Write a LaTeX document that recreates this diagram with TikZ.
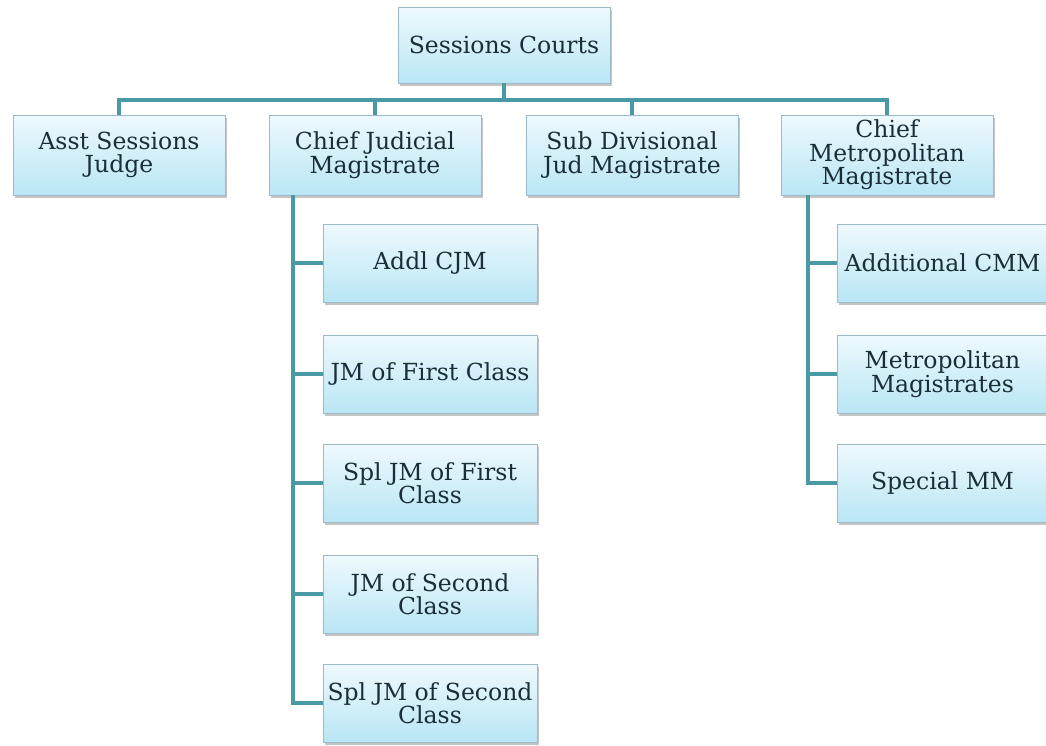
\documentclass[tikz,border=0pt]{standalone}
\usepackage{fontspec}
\setmainfont{DejaVu Serif}
\usetikzlibrary{shadows}
\definecolor{conncol}{HTML}{4A9AA6}
\definecolor{boxtop}{HTML}{EEF9FD}
\definecolor{boxbot}{HTML}{B9E6F5}
\definecolor{boxline}{HTML}{9DBBC6}
\definecolor{txtcol}{HTML}{1A2E38}
\tikzset{
  orgbox/.style={rectangle, draw=boxline, line width=0.8pt, top color=boxtop, bottom color=boxbot,
    minimum width=212pt, minimum height=78pt, inner sep=0pt, align=center,
    text=txtcol, font=\fontsize{23.5}{23.5}\selectfont,
    drop shadow={shadow xshift=2pt, shadow yshift=-3pt, fill=black!45, opacity=0.5}},
  conn/.style={draw=conncol, line width=4pt}
}
\begin{document}
\begin{tikzpicture}[x=1pt,y=-1pt]
\useasboundingbox[fill=white] (0,0) rectangle (1046,745);
% level 1
\node[orgbox, minimum height=76pt] (top) at (504,45) {Sessions Courts};
% level 2
\node[orgbox, minimum height=80pt] (asj) at (119,155) {Asst Sessions\\Judge};
\node[orgbox, minimum height=80pt] (cjm) at (375,155) {Chief Judicial\\Magistrate};
\node[orgbox, minimum height=80pt] (sdj) at (632,155) {Sub Divisional\\Jud Magistrate};
\node[orgbox, minimum height=80pt] (cmm) at (887,155) {Chief\\Metropolitan\\Magistrate};
% level 3 under CJM
\node[orgbox, minimum width=214pt] (c1) at (430,263) {Addl CJM};
\node[orgbox, minimum width=214pt] (c2) at (430,374) {JM of First Class};
\node[orgbox, minimum width=214pt] (c3) at (430,483) {Spl JM of First\\Class};
\node[orgbox, minimum width=214pt] (c4) at (430,594) {JM of Second\\Class};
\node[orgbox, minimum width=214pt] (c5) at (430,703) {Spl JM of Second\\Class};
% level 3 under CMM
\node[orgbox, minimum width=211pt] (m1) at (942.5,263) {Additional CMM};
\node[orgbox, minimum width=211pt] (m2) at (942.5,374) {Metropolitan\\Magistrates};
\node[orgbox, minimum width=211pt] (m3) at (942.5,483) {Special MM};
% connectors
\coordinate (bus) at (0,100);
\coordinate (cjmspine) at (293,0);
\coordinate (cmmspine) at (808,0);
\draw[conn] (top.south) -- (top.south |- bus);
\draw[conn] (asj.north) -- (asj.north |- bus) -| (cmm.north);
\draw[conn] (cjm.north) -- (cjm.north |- bus);
\draw[conn] (sdj.north) -- (sdj.north |- bus);
\draw[conn] (cjmspine |- cjm.south) |- (c5.west);
\draw[conn] (cjmspine |- c1.west) -- (c1.west);
\draw[conn] (cjmspine |- c2.west) -- (c2.west);
\draw[conn] (cjmspine |- c3.west) -- (c3.west);
\draw[conn] (cjmspine |- c4.west) -- (c4.west);
\draw[conn] (cmmspine |- cmm.south) |- (m3.west);
\draw[conn] (cmmspine |- m1.west) -- (m1.west);
\draw[conn] (cmmspine |- m2.west) -- (m2.west);
\end{tikzpicture}
\end{document}
